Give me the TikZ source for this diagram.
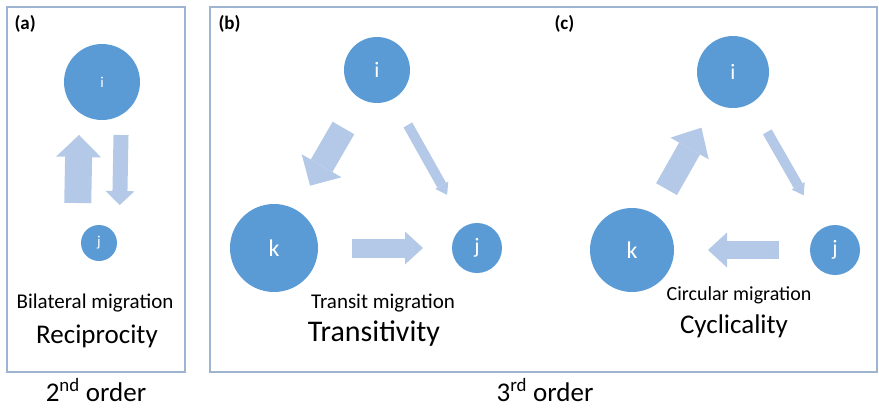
\documentclass[tikz,border=0pt]{standalone}
\usepackage{fontspec}
\setmainfont{Carlito}
\usepackage{tikz}
\usetikzlibrary{arrows.meta}

\definecolor{dotblue}{RGB}{91,155,213}
\definecolor{flowblue}{RGB}{180,201,231}
\definecolor{framegray}{RGB}{158,180,208}

\begin{document}
\begin{tikzpicture}[x=1pt, y=-1pt,
  dot/.style={circle, fill=dotblue, text=white, inner sep=0pt, font=\fontsize{22}{22}\selectfont},
  flow/.style n args={3}{draw=flowblue, line width=#1pt, -{Triangle[width=#2pt, length=#3pt, line width=0pt, fill=flowblue]}},
  panel/.style={draw=framegray, line width=1.1pt},
  tag/.style={font=\bfseries\fontsize{19}{19}\selectfont, anchor=base west},
  kind/.style={font=\fontsize{21}{21}\selectfont, anchor=base},
  prop/.style={font=\fontsize{27}{27}\selectfont, anchor=base}]
\useasboundingbox (0,0) rectangle (879,410);
\draw[panel] (7,7) rectangle (185,372);
\draw[panel] (210,7) rectangle (877,372);
% (a) reciprocity
\node[tag] (ta) at (11,29) {(a)};
\node[dot, minimum size=76, font=\fontsize{15}{15}\selectfont] (ai) at (102,82) {i};
\node[dot, minimum size=36, font=\fontsize{15}{15}\selectfont] (aj) at (99,243) {j};
\draw[flow={27}{45}{22}, shorten <=40, shorten >=53] ([xshift=-22pt]aj.center) -- ([xshift=-22pt]ai.center);
\draw[flow={15}{29}{14}, shorten <=53, shorten >=38] ([xshift=20pt]ai.center) -- ([xshift=20pt]aj.center);
\node[kind] (ka) at (95,308) {Bilateral migration};
\node[prop] (pa) at (97,343) {Reciprocity};
% (b) transitivity
\node[tag] (tb) at (215,29) {(b)};
\node[dot, minimum size=66] (bi) at (377,70) {i};
\node[dot, minimum size=88, font=\fontsize{24}{24}\selectfont] (bk) at (274,248) {k};
\node[dot, minimum size=50] (bj) at (477,248) {j};
\draw[flow={25}{46}{23}, shorten <=67, shorten >=72] (bi.center) -- (bk.center);
\draw[flow={10}{15}{11}, shorten <=63, shorten >=61] (bi.center) -- (bj.center);
\draw[flow={19}{33}{18}, shorten <=78, shorten >=54] (bk.center) -- (bj.center);
\node[kind] (kb) at (383,308) {Transit migration};
\node[prop, font=\fontsize{30}{30}\selectfont] (pb) at (374,341) {Transitivity};
% (c) cyclicality
\node[tag] (tc) at (551,29) {(c)};
\node[dot, minimum size=72] (ci) at (733,72) {i};
\node[dot, minimum size=84, font=\fontsize{24}{24}\selectfont] (ck) at (632,250) {k};
\node[dot, minimum size=50] (cj) at (835,250) {j};
\draw[flow={24}{44}{24}, shorten <=70, shorten >=64] (ck.center) -- (ci.center);
\draw[flow={10}{15}{11}, shorten <=69, shorten >=63] (ci.center) -- (cj.center);
\draw[flow={18}{35}{19}, shorten <=56, shorten >=76] (cj.center) -- (ck.center);
\node[kind, font=\fontsize{20}{20}\selectfont] (kc) at (739,300) {Circular migration};
\node[prop] (pc) at (734,333) {Cyclicality};
% orders
\node[prop] (o2) at (96,401) {2\textsuperscript{nd} order};
\node[prop] (o3) at (545,401) {3\textsuperscript{rd} order};
\end{tikzpicture}
\end{document}
